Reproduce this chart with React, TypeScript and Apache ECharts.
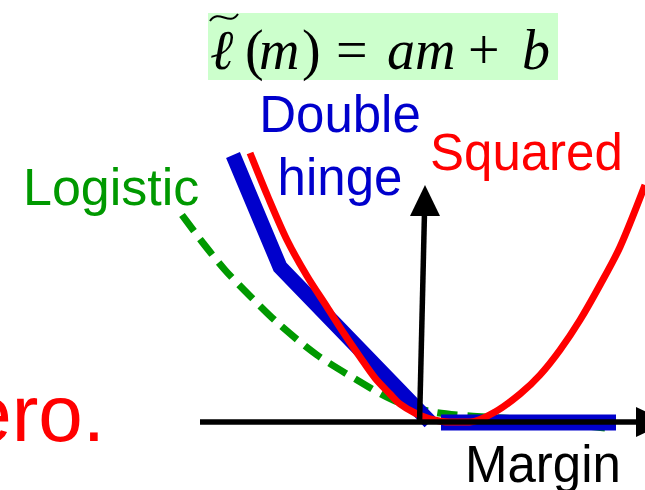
import React, { useEffect, useRef } from "react";
import * as echarts from "echarts";

// Margin (x) and loss (y) values
const squaredM = [-1.7, -1.52, -1.33, -1.13, -0.93, -0.75, -0.6, -0.45, -0.3, -0.2, -0.05, 0.1, 0.3, 0.5, 0.75, 1.0, 1.2, 1.4, 1.6, 1.8, 2.0, 2.25];
const squaredL = [2.69, 2.25, 1.82, 1.46, 1.15, 0.87, 0.65, 0.44, 0.28, 0.18, 0.09, 0.03, 0.0, 0.0, 0.1, 0.28, 0.47, 0.72, 1.02, 1.37, 1.75, 2.37];

const hingeM = [-1.87, -1.4, 0.1];
const hingeL = [2.67, 1.55, 0.0];
const flatM = [0.21, 1.96];
const flatL = [-0.005, -0.005];

const logisticM = [-2.38, -2.17, -1.95, -1.7, -1.4, -1.03, -0.63, -0.27, 0.13, 0.5, 0.83, 1.17, 1.47, 1.85];
const logisticL = [2.07, 1.79, 1.52, 1.26, 0.97, 0.67, 0.42, 0.22, 0.1, 0.06, 0.04, 0.01, -0.02, -0.06];

const labels = {
  logistic: "Logistic",
  double: "Double",
  hinge: "hinge",
  squared: "Squared",
  margin: "Margin",
  zero: "ero.",
};

// formula segments: text, italic flag, box width
const formulaParts = ["ℓ", "(", "m", ")", "=", "am", "+", "b"];
const formulaItalic = [true, false, true, false, false, true, false, true];
const formulaWidth = [35, 14, 43, 34, 51, 81, 54, 34];

const pairs = (xs: number[], ys: number[]) => xs.map((x, i) => [x, ys[i]]);

const SANS = "'Liberation Sans', Arial, sans-serif";
const SERIF = "'Liberation Serif', 'DejaVu Serif', serif";

export default function App() {
  const ref = useRef<HTMLDivElement>(null);
  useEffect(() => {
    document.body.style.margin = "0";
    const chart = echarts.init(ref.current!, undefined, { renderer: "svg" });
    const rich: Record<string, any> = {};
    let formulaText = "";
    formulaParts.forEach((t, i) => {
      rich["s" + i] = {
        fontFamily: SERIF,
        fontStyle: formulaItalic[i] ? "italic" : "normal",
        fontSize: 56,
        fill: "#000",
        width: formulaWidth[i],
        align: "left",
      };
      formulaText += `{s${i}|${t}}`;
    });
    chart.setOption({
      animation: false,
      backgroundColor: "#ffffff",
      grid: { left: 0, right: 0, top: 0, bottom: 0 },
      xAxis: { type: "value", min: -4.2, max: 2.25, show: false },
      yAxis: { type: "value", min: -0.68, max: 4.22, show: false },
      series: [
        {
          type: "line",
          data: pairs(logisticM, logisticL),
          smooth: 0.3,
          showSymbol: false,
          lineStyle: { color: "#009900", width: 7, type: [20, 10], cap: "butt" },
          z: 2,
        },
        {
          type: "line",
          data: pairs(hingeM, hingeL),
          showSymbol: false,
          lineStyle: { color: "#0000cc", width: 15, cap: "butt", join: "miter" },
          z: 3,
        },
        {
          type: "line",
          data: pairs(flatM, flatL),
          showSymbol: false,
          lineStyle: { color: "#0000cc", width: 16, cap: "butt" },
          z: 3,
        },
        {
          type: "line",
          data: pairs(squaredM, squaredL),
          smooth: 0.3,
          showSymbol: false,
          lineStyle: { color: "#ff0000", width: 7, cap: "butt" },
          z: 4,
        },
      ],
      graphic: [
        // axes
        { type: "line", z: 100, shape: { x1: 200, y1: 422, x2: 642, y2: 422 }, style: { stroke: "#000", lineWidth: 5.5 } },
        { type: "polygon", z: 100, shape: { points: [[636, 407], [668, 422], [636, 437]] }, style: { fill: "#000" } },
        { type: "line", z: 100, shape: { x1: 419.5, y1: 424, x2: 424.5, y2: 212 }, style: { stroke: "#000", lineWidth: 5.5 } },
        { type: "polygon", z: 100, shape: { points: [[410, 216], [425, 185], [440, 216]] }, style: { fill: "#000" } },
        // formula
        { type: "rect", z: 50, shape: { x: 208, y: 13, width: 350, height: 67 }, style: { fill: "#ccffcc" } },
        {
          type: "bezierCurve",
          z: 60,
          shape: { x1: 210, y1: 21, cpx1: 219, cpy1: 8, cpx2: 229, cpy2: 27, x2: 238, y2: 14 },
          style: { stroke: "#000", lineWidth: 2, fill: null },
        },
        {
          type: "text",
          z: 60,
          x: 210,
          y: 50,
          style: { text: formulaText, rich, verticalAlign: "middle" },
        },
        // labels
        { type: "text", z: 60, x: 23, y: 187, style: { text: labels.logistic, fontFamily: SANS, fontSize: 52, fill: "#009900", verticalAlign: "middle" } },
        { type: "text", z: 60, x: 340, y: 114, style: { text: labels.double, fontFamily: SANS, fontSize: 51, fill: "#0000cc", align: "center", verticalAlign: "middle" } },
        { type: "text", z: 60, x: 340, y: 177, style: { text: labels.hinge, fontFamily: SANS, fontSize: 51, fill: "#0000cc", align: "center", verticalAlign: "middle" } },
        { type: "text", z: 60, x: 430, y: 152, style: { text: labels.squared, fontFamily: SANS, fontSize: 51, fill: "#ff0000", verticalAlign: "middle" } },
        { type: "text", z: 60, x: 465, y: 464, style: { text: labels.margin, fontFamily: SANS, fontSize: 51, fill: "#000", verticalAlign: "middle" } },
        { type: "text", z: 60, x: 105, y: 413, style: { text: labels.zero, fontFamily: SANS, fontSize: 80, fill: "#ff0000", align: "right", verticalAlign: "middle" } },
      ],
    });
    return () => chart.dispose();
  }, []);
  return <div ref={ref} style={{ position: "fixed", left: 0, top: 0, width: 645, height: 490 }} />;
}
